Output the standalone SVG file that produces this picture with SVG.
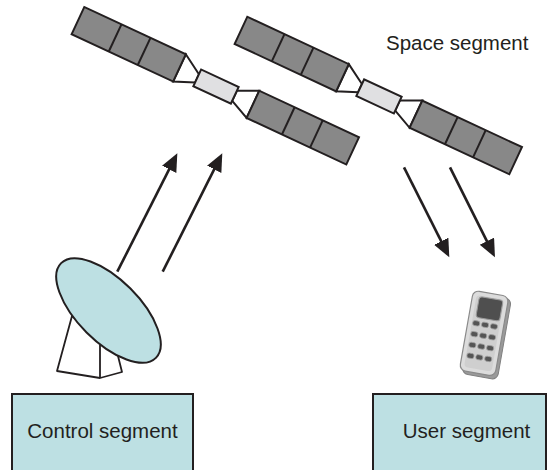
<svg xmlns="http://www.w3.org/2000/svg" xmlns:xlink="http://www.w3.org/1999/xlink" width="555" height="470" viewBox="0 0 555 470">
  <style>
    .ink { stroke: #231f20; stroke-width: 2; stroke-linejoin: miter; }
    .panel { fill: #888888; }
    .bus { fill: #e0e0e2; }
    .boom { fill: #ffffff; }
    .cell { fill: none; stroke: #231f20; stroke-width: 2; }
    .seg { fill: #bde0e3; stroke: #231f20; stroke-width: 2; }
    .label { font-family: "Liberation Sans", Arial, sans-serif; font-size: 20.5px; fill: #231f20; }
    .link { stroke: #231f20; stroke-width: 2.6; fill: none; marker-end: url(#head); }
    .key { fill: #555555; stroke: #a0a0a0; stroke-width: 0.8; }
  </style>
  <defs>
    <marker id="head" markerUnits="userSpaceOnUse" markerWidth="20" markerHeight="17" refX="8" refY="8" orient="auto">
      <path d="M0,0 L18,8 L0,16 z" fill="#231f20"/>
    </marker>
    <!-- satellite drawn along its own axis, bus centred on the origin -->
    <g id="sat">
      <polygon class="boom ink" points="-41,-16.5 -20.7,-4 -20.7,5 -41,13.5"/>
      <polygon class="boom ink" points="20.7,-5 41,-14.5 41,15.5 20.7,6"/>
      <rect class="panel ink" x="-153" y="-16.5" width="112" height="30"/>
      <line class="cell" x1="-112" y1="-16.5" x2="-112" y2="13.5"/>
      <line class="cell" x1="-80" y1="-16.5" x2="-80" y2="13.5"/>
      <rect class="panel ink" x="41" y="-14.5" width="110" height="30"/>
      <line class="cell" x1="80" y1="-14.5" x2="80" y2="15.5"/>
      <line class="cell" x1="111" y1="-14.5" x2="111" y2="15.5"/>
      <rect class="bus ink" x="-20.7" y="-9.2" width="41.4" height="18.4"/>
    </g>
  </defs>

  <g id="satellite-1">
    <use xlink:href="#sat" href="#sat" transform="translate(216,86.6) rotate(25)"/>
  </g>
  <g id="satellite-2">
    <use xlink:href="#sat" href="#sat" transform="translate(379,96.4) rotate(25)"/>
  </g>
  <g id="space-label">
    <text class="label" x="386" y="50">Space segment</text>
  </g>

  <g id="connectors">
    <line class="link" x1="117.3" y1="271.7" x2="172.8" y2="162.2"/>
    <line class="link" x1="162.7" y1="271.7" x2="217.8" y2="162.2"/>
    <line class="link" x1="404" y1="167.3" x2="444.8" y2="248.4"/>
    <line class="link" x1="450" y1="167.3" x2="490.5" y2="248.4"/>
  </g>

  <g id="dish">
    <polygon points="72,316 57,371 100,378 122,372 117,352" fill="#ffffff" stroke="#231f20" stroke-width="1.8" stroke-linejoin="round"/>
    <line x1="100" y1="345" x2="100" y2="378" stroke="#231f20" stroke-width="1.8"/>
    <ellipse cx="108.5" cy="310.5" rx="67" ry="31" transform="rotate(45 108.5 310.5)" fill="#bde0e3" stroke="#231f20" stroke-width="2"/>
  </g>

  <g id="phone" transform="translate(485,334) rotate(10)">
    <rect x="-16" y="-39" width="36" height="82" rx="6" fill="#9a9a9a" stroke="#808080" stroke-width="1"/>
    <rect x="-19" y="-41" width="36" height="81" rx="6" fill="#dcdcdc" stroke="#8a8a8a" stroke-width="1.2"/>
    <rect x="-15" y="-37" width="28" height="73" rx="4" fill="#cfcfcf"/>
    <rect x="-12" y="-36" width="24" height="21" rx="3" fill="#4f4f4f" stroke="#9a9a9a" stroke-width="1"/>
    <g>
      <rect class="key" x="-14" y="-11.5" width="7" height="5" rx="2"/>
      <rect class="key" x="-5" y="-11.5" width="7" height="5" rx="2"/>
      <rect class="key" x="4" y="-11.5" width="7" height="5" rx="2"/>
      <rect class="key" x="-14" y="-0.5" width="7" height="5" rx="2"/>
      <rect class="key" x="-5" y="-0.5" width="7" height="5" rx="2"/>
      <rect class="key" x="4" y="-0.5" width="7" height="5" rx="2"/>
      <rect class="key" x="-14" y="10.5" width="7" height="5" rx="2"/>
      <rect class="key" x="-5" y="10.5" width="7" height="5" rx="2"/>
      <rect class="key" x="4" y="10.5" width="7" height="5" rx="2"/>
      <rect class="key" x="-14" y="21.5" width="7" height="5" rx="2"/>
      <rect class="key" x="-5" y="21.5" width="7" height="5" rx="2"/>
      <rect class="key" x="4" y="21.5" width="7" height="5" rx="2"/>
    </g>
  </g>

  <g id="control-segment">
    <rect class="seg" x="12" y="394" width="181" height="90"/>
    <text class="label" x="102.5" y="438" text-anchor="middle">Control segment</text>
  </g>
  <g id="user-segment">
    <rect class="seg" x="373" y="394" width="173" height="90"/>
    <text class="label" x="466.5" y="438" text-anchor="middle">User segment</text>
  </g>
</svg>
